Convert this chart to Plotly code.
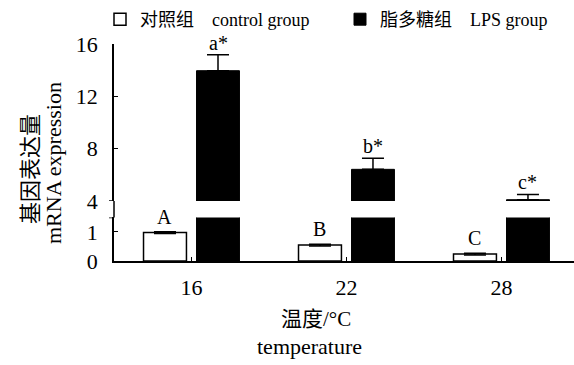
import plotly.graph_objects as go

categories = ["16", "22", "28"]
control = [0.98, 0.55, 0.24]
control_err = [0.03, 0.03, 0.03]
lps = [13.96, 6.42, 4.1]
lps_err = [1.22, 0.84, 0.4]
lps_err_minus = [0, 0, 0]
control_labels = ["A", "B", "C"]
lps_labels = ["a*", "b*", "c*"]

FONT = "Liberation Serif, Noto Sans CJK SC, serif"
BARGAP = 0.316
BARGROUPGAP = 0.19
offset = (1 - BARGAP) / 4

LOW_DOM = [0, 0.2005]
UP_DOM = [0.2765, 1]
NB = "\u00a0"

fig = go.Figure()
for yax, show in (("y", True), ("y2", False)):
    fig.add_trace(go.Bar(
        x=categories, y=control, yaxis=yax, name="对照组" + NB * 4 + "control group",
        legendgroup="c", showlegend=show, legend="legend",
        marker=dict(color="white", line=dict(color="black", width=1.5)),
        error_y=dict(type="data", array=control_err, color="black", thickness=1.5, width=11),
    ))
    fig.add_trace(go.Bar(
        x=categories, y=lps, yaxis=yax, name="脂多糖组" + NB * 4 + "LPS group",
        legendgroup="l", showlegend=show, legend="legend2",
        marker=dict(color="black", line=dict(color="black", width=1)),
        error_y=dict(type="data", symmetric=False, array=lps_err, arrayminus=lps_err_minus,
                     color="black", thickness=1.5, width=11),
    ))

annotations = []
for i, (v, e, t) in enumerate(zip(control, control_err, control_labels)):
    annotations.append(dict(x=i - offset, y=v + e, xref="x", yref="y", text=t, showarrow=False,
                            yanchor="bottom", yshift=2, font=dict(family=FONT, size=20, color="black")))
for i, (v, e, t) in enumerate(zip(lps, lps_err, lps_labels)):
    annotations.append(dict(x=i + offset, y=v + e, xref="x", yref="y2", text=t, showarrow=False,
                            yanchor="bottom", yshift=-1, font=dict(family=FONT, size=20, color="black")))

annotations += [
    dict(x=30, y=169, xref="paper", yref="paper", text="基因表达量", textangle=-90, showarrow=False,
         font=dict(family=FONT, size=22, color="black")),
    dict(x=53, y=163, xref="paper", yref="paper", text="mRNA expression", textangle=-90, showarrow=False,
         font=dict(family=FONT, size=22, color="black")),
    dict(x=316, y=319, xref="paper", yref="paper", text="温度/°C", showarrow=False,
         font=dict(family=FONT, size=21, color="black")),
    dict(x=309, y=346, xref="paper", yref="paper", text="temperature", showarrow=False,
         font=dict(family=FONT, size=22, color="black")),
]

W, H = 574, 365
L, R, T, B = 114, 0, 44, 104
pw, ph = W - L - R, H - T - B
# convert pixel-positioned titles to paper coords
for a in annotations[-4:]:
    a["x"] = (a["x"] - L) / pw
    a["y"] = (H - B - a["y"]) / ph
    a["xanchor"] = "center"
    a["yanchor"] = "middle"

shapes = [
    dict(type="line", xref="paper", yref="paper", x0=0, x1=0, y0=LOW_DOM[1], y1=UP_DOM[0],
         line=dict(color="black", width=1.5)),
    dict(type="line", xref="paper", xsizemode="pixel", xanchor=0, x0=-5, x1=0, yref="y2", y0=4, y1=4,
         line=dict(color="black", width=1.5)),
    dict(type="line", xref="paper", xsizemode="pixel", xanchor=0, x0=-5, x1=0, yref="y", y0=1.5, y1=1.5,
         line=dict(color="black", width=1.5)),
]

legend_common = dict(orientation="h", xanchor="left", xref="paper",
                     y=(H - B - 1) / ph, yanchor="top", yref="paper",
                     font=dict(family=FONT, size=18), bgcolor="rgba(0,0,0,0)")

fig.update_layout(
    width=W, height=H, margin=dict(l=L, r=R, t=T, b=B, autoexpand=False),
    paper_bgcolor="white", plot_bgcolor="white",
    barmode="group", bargap=BARGAP, bargroupgap=BARGROUPGAP,
    font=dict(family=FONT, size=18, color="black"),
    showlegend=True,
    legend=dict(x=(100 - L) / pw, **legend_common),
    legend2=dict(x=(340 - L) / pw, **legend_common),
    xaxis=dict(type="category", range=[-0.5, 2.468], anchor="y", showline=True, linecolor="black",
               linewidth=1.5, ticks="inside", ticklen=4, tickcolor="black", tickwidth=1,
               tickfont=dict(family=FONT, size=22), showgrid=False, zeroline=False,
               ticklabelstandoff=6),
    yaxis=dict(domain=LOW_DOM, range=[0, 1.5], tickvals=[0, 1, 1.5], ticktext=["0", "1", ""],
               showline=True, linecolor="black", linewidth=1.5, ticks="inside", ticklen=4,
               tickcolor="black", tickwidth=1, tickfont=dict(family=FONT, size=22),
               showgrid=False, zeroline=False, anchor="x", ticklabelstandoff=10),
    yaxis2=dict(domain=UP_DOM, range=[4, 16], tickvals=[4, 8, 12, 16],
                showline=True, linecolor="black", linewidth=1.5, ticks="inside", ticklen=4,
                tickcolor="black", tickwidth=1, tickfont=dict(family=FONT, size=22),
                showgrid=False, zeroline=False, anchor="x", ticklabelstandoff=10),
    annotations=annotations, shapes=shapes,
)

fig.write_html("out.html", config={"displayModeBar": False},
               post_script="document.body.style.margin='0';")
